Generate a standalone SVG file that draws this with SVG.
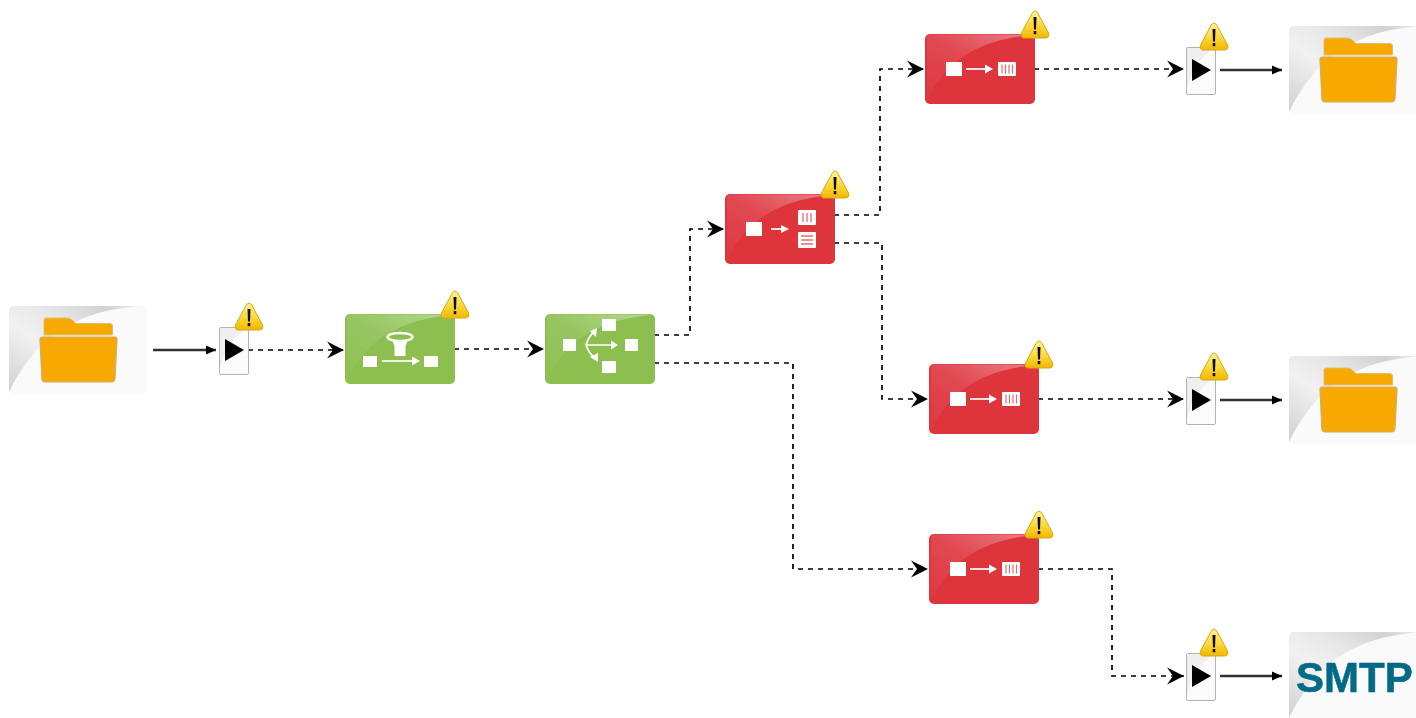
<svg xmlns="http://www.w3.org/2000/svg" width="1416" height="718" viewBox="0 0 1416 718">
<style>
.dash{fill:none;stroke:#000;stroke-width:1.7;stroke-dasharray:5 5;marker-end:url(#open)}
.solid{fill:none;stroke:#333;stroke-width:2.4;marker-end:url(#solid)}
.w{fill:#fff}
.wl{fill:none;stroke:#fff;stroke-width:1.7}
.funnel{fill:none;stroke:#fff;stroke-width:2.4}
.smtp{font-family:"Liberation Sans",Arial,sans-serif;font-weight:700;font-size:42px;fill:#036b87;stroke:#036b87;stroke-width:.6}
</style>
<defs>
<filter id="soft" x="-2%" y="-2%" width="104%" height="104%"><feGaussianBlur stdDeviation="0.6"/></filter>
<marker id="open" markerUnits="userSpaceOnUse" markerWidth="18" markerHeight="18" refX="16" refY="9" orient="auto" overflow="visible"><path d="M-1 0.500 L16 9 L-1 17.500 L5 9Z" fill="#000"/></marker>
<marker id="solid" markerUnits="userSpaceOnUse" markerWidth="12" markerHeight="12" refX="10" refY="6" orient="auto" overflow="visible"><path d="M0 1.500 L10 6 L0 10.500Z" fill="#000"/></marker>
<linearGradient id="gloss" x1="0" y1="1" x2="1" y2="0"><stop offset="0" stop-color="#fff" stop-opacity=".02"/><stop offset=".5" stop-color="#fff" stop-opacity=".1"/><stop offset="1" stop-color="#fff" stop-opacity=".38"/></linearGradient>
<linearGradient id="swoosh" x1="0" y1="1" x2="1" y2="0"><stop offset="0" stop-color="#d0d0d0"/><stop offset=".4" stop-color="#f1f1f1"/><stop offset=".6" stop-color="#e8e8e8"/><stop offset=".85" stop-color="#d2d2d2"/><stop offset="1" stop-color="#ededed"/></linearGradient>
<linearGradient id="yel" x1="0" y1="0" x2="0" y2="1"><stop offset="0" stop-color="#fff29a"/><stop offset=".55" stop-color="#fcd83a"/><stop offset="1" stop-color="#efb700"/></linearGradient>
<symbol id="warn" width="30" height="30" viewBox="0 0 30 30" overflow="visible">
<path d="M15 1 Q16.500 1 18 3.500 L28.500 23 Q30 28 25.500 28 H4.500 Q0 28 1.500 23 L12 3.500 Q13.500 1 15 1Z" fill="url(#yel)" stroke="#d9a80e" stroke-width="1"/>
<path d="M13.500 7 H16.500 L16 19.500 H14Z" fill="#111"/><rect x="13.700" y="21" width="2.600" height="3.200" fill="#111"/>
</symbol>
<symbol id="tile" width="138" height="88" viewBox="0 0 138 88" overflow="visible">
<rect x="0" y="0" width="138" height="88" rx="5" fill="#fafafa"/>
<path d="M5 0 H132 C75 5 32 22 0 86 V5 Q0 0 5 0Z" fill="url(#swoosh)"/>
</symbol>
<symbol id="folder" width="138" height="88" viewBox="0 0 138 88" overflow="visible">
<path d="M35 14 Q35 12 37 12 H59 Q62 12 64 15 L67 17.500 H101 Q103.500 17.500 103.500 20 V29 H35Z" fill="#f7a900" stroke="#dcc07a" stroke-width="1"/>
<path d="M33 31 H106 Q108 31 108 33.500 L106 72 Q106 76 102 76 H36 Q33 76 32.800 72 L31 33.500 Q31 31 33 31Z" fill="#f7a900" stroke="#cfae6a" stroke-width="1.200"/>
</symbol>
<symbol id="play" width="30" height="48" viewBox="0 0 30 48" overflow="visible">
<rect x="0.500" y="0.500" width="29" height="47" rx="1.500" fill="#fbfbfb" stroke="#b3b3b3" stroke-width="1"/>
<path d="M1 1 H28 C15 10 7 20 1 42Z" fill="#efefef"/>
<path d="M6 12 L25 23 L6 34Z" fill="#000"/>
</symbol>
<path id="glossp" d="M5 0.500 H108 C60 6 25 20 2 66 V5 Q2 0.500 5 0.500Z" fill="url(#gloss)"/>
<symbol id="to-table" width="110" height="70" viewBox="0 0 110 70" overflow="visible">
<rect class="w" x="21" y="28" width="16" height="14"/>
<path class="wl" d="M41 35 H62"/><path class="w" d="M60 30.500 L68 35 L60 39.500Z"/>
<rect class="w" x="73" y="28" width="18" height="14" rx="1"/>
<path d="M77 30.500 V39.500 M80.500 30.500 V39.500 M84 30.500 V39.500 M87.500 30.500 V39.500" stroke="#e66b72" stroke-width="1.200"/>
</symbol>
</defs>
<rect width="1416" height="718" fill="#fff"/>
<g filter="url(#soft)">
<g id="connectors">
<path class="solid" d="M153 350H216"/>
<path class="dash" d="M248 350H344"/>
<path class="dash" d="M454 349H544"/>
<path class="dash" d="M654 335H690V229H724"/>
<path class="dash" d="M654 363H793V569H928"/>
<path class="dash" d="M834 215H880V69H924"/>
<path class="dash" d="M834 243H882V399H928"/>
<path class="dash" d="M1034 69H1184"/>
<path class="dash" d="M1038 399H1184"/>
<path class="dash" d="M1038 569H1112V676H1184"/>
<path class="solid" d="M1220 70H1282"/>
<path class="solid" d="M1220 400H1282"/>
<path class="solid" d="M1220 676H1282"/>
</g>
<g id="source-folder"><use href="#tile" x="9" y="306"/><use href="#folder" x="9" y="306"/></g>
<g id="start-1"><use href="#play" x="219" y="327"/><use href="#warn" x="234" y="302"/></g>
<g id="filter">
<rect x="345" y="314" width="110" height="70" rx="5" fill="#8cbf50"/><use href="#glossp" x="345" y="314"/>
<rect class="w" x="363" y="356" width="14" height="11"/><rect class="w" x="424" y="356" width="14" height="11"/>
<path class="wl" d="M382 361H414"/><path class="w" d="M412 356.500 L420 361 L412 365.500Z"/>
<ellipse class="funnel" cx="400" cy="337" rx="12.500" ry="4"/>
<path class="w" d="M392 340 H408 L405.500 346 V356 H394.500 V346Z"/>
<use href="#warn" x="440" y="290"/>
</g>
<g id="splitter">
<rect x="545" y="314" width="110" height="70" rx="5" fill="#8cbf50"/><use href="#glossp" x="545" y="314"/>
<rect class="w" x="563" y="339" width="13" height="12"/><rect class="w" x="602" y="319" width="14" height="12"/>
<rect class="w" x="625" y="339" width="13" height="12"/><rect class="w" x="602" y="361" width="14" height="12"/>
<path class="wl" d="M586 345H612M586 345C588 339 590 335 594 332M586 345C588 351 591 355 595 358"/>
<path class="w" d="M611 340.500 L618 345 L611 349.500Z M590 331 L597 328 L596 337Z M590 357 L598 362 L598 353Z"/>
</g>
<g id="split-table">
<rect x="725" y="194" width="110" height="70" rx="5" fill="#de343e"/><use href="#glossp" x="725" y="194"/>
<rect class="w" x="746" y="222" width="16" height="14"/>
<path class="wl" d="M771 229H782"/><path class="w" d="M781 225 L789 229 L781 233Z"/>
<rect class="w" x="798" y="210" width="18" height="15" rx="1"/>
<path d="M803 213V222M807 213V222M811 213V222" stroke="#e66b72" stroke-width="1.300"/>
<rect class="w" x="798" y="232" width="18" height="16" rx="1"/>
<path d="M801 236H813M801 240H813M801 244H813" stroke="#e66b72" stroke-width="1.300"/>
<use href="#warn" x="820" y="170"/>
</g>
<g id="table-1">
<rect x="925" y="34" width="110" height="70" rx="5" fill="#de343e"/><use href="#glossp" x="925" y="34"/>
<use href="#to-table" x="925" y="34"/><use href="#warn" x="1020" y="10"/>
</g>
<g id="table-2">
<rect x="929" y="364" width="110" height="70" rx="5" fill="#de343e"/><use href="#glossp" x="929" y="364"/>
<use href="#to-table" x="929" y="364"/><use href="#warn" x="1024" y="340"/>
</g>
<g id="table-3">
<rect x="929" y="534" width="110" height="70" rx="5" fill="#de343e"/><use href="#glossp" x="929" y="534"/>
<use href="#to-table" x="929" y="534"/><use href="#warn" x="1024" y="510"/>
</g>
<g id="start-2"><use href="#play" x="1186" y="47"/><use href="#warn" x="1199" y="22"/></g>
<g id="start-3"><use href="#play" x="1186" y="377"/><use href="#warn" x="1199" y="352"/></g>
<g id="start-4"><use href="#play" x="1186" y="653"/><use href="#warn" x="1199" y="628"/></g>
<g id="target-folder-1"><use href="#tile" x="1289" y="26"/><use href="#folder" x="1289" y="26"/></g>
<g id="target-folder-2"><use href="#tile" x="1289" y="356"/><use href="#folder" x="1289" y="356"/></g>
<g id="target-smtp"><use href="#tile" x="1289" y="632"/><text class="smtp" x="1296" y="692">SMTP</text></g>
</g>
</svg>
